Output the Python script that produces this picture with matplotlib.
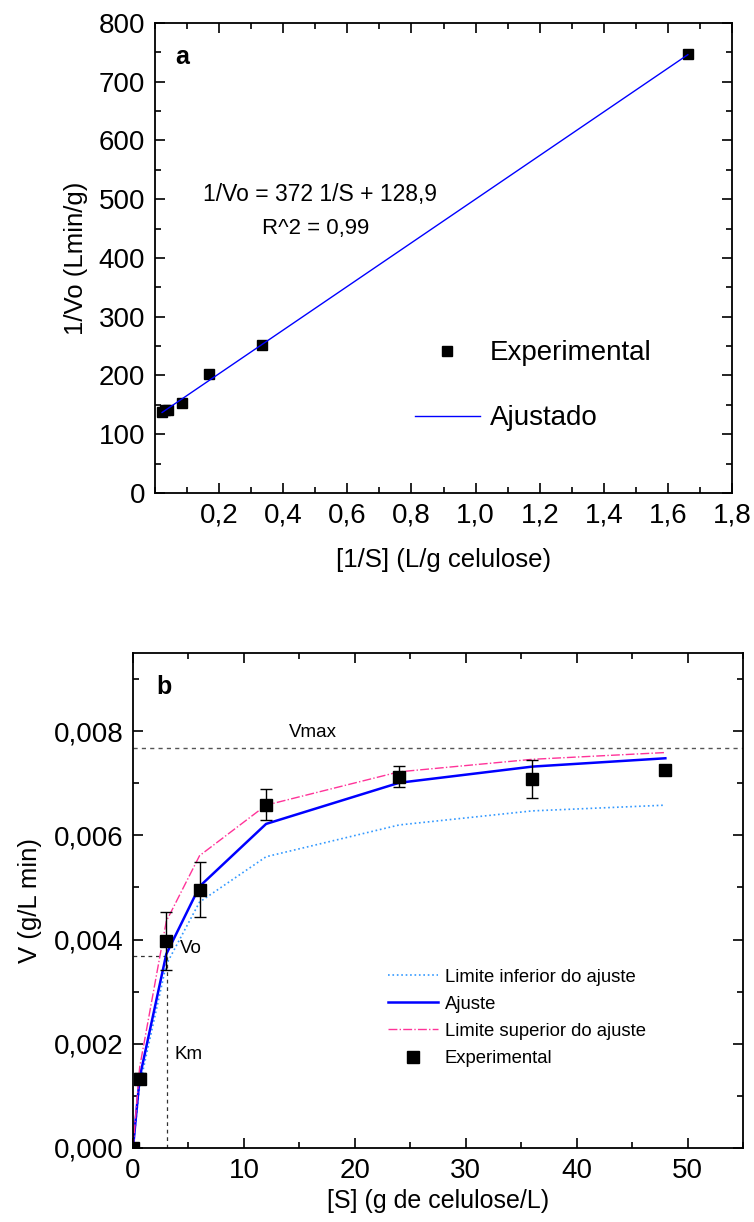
import numpy as np
import matplotlib
matplotlib.use("Agg")
import matplotlib.pyplot as plt
from matplotlib.ticker import MultipleLocator, FuncFormatter
from matplotlib.lines import Line2D

plt.rcParams['font.family'] = ['Liberation Sans', 'DejaVu Sans']

# Painel a - Lineweaver-Burk
inv_s = [0.021, 0.031, 0.042, 0.083, 0.167, 0.333, 1.662]
inv_v = [138, 141, 141, 153, 202, 252, 747]
ajustado_x = [0.022, 1.662]
ajustado_y = [137, 746]

# Painel b - Michaelis-Menten
s_exp = [0, 0.6, 3, 6, 12, 24, 36, 48]
v_exp = [0, 0.00133, 0.00397, 0.00496, 0.00659, 0.00713, 0.00708, 0.00726]
v_err = [0, 0.0001, 0.00056, 0.00052, 0.0003, 0.0002, 0.00037, 0.0001]

s_fit = [0, 0.6, 3, 6, 12, 24, 36, 48]
v_ajuste = [0, 0.00135, 0.00372, 0.00502, 0.00622, 0.00701, 0.00732, 0.00748]
v_sup = [0, 0.00155, 0.00435, 0.00561, 0.00658, 0.00722, 0.00746, 0.00759]
v_inf = [0, 0.0012, 0.00352, 0.00472, 0.00559, 0.0062, 0.00647, 0.00658]

vmax = 0.00767
km = 3.1
vo = 0.00368


def virgula(fmt):
    return FuncFormatter(lambda v, p: (fmt % v).replace('.', ','))


def estilo(ax):
    ax.tick_params(which='both', direction='in', top=True, right=True, width=1.2)
    ax.tick_params(which='major', length=7, labelsize=20, pad=7)
    ax.tick_params(which='minor', length=4)
    for s in ax.spines.values():
        s.set_linewidth(1.3)


fig = plt.figure(figsize=(7.54, 12.22), dpi=100)

# ---- a ----
ax1 = fig.add_axes([0.2056, 0.5966, 0.7653, 0.3846])
ax1.plot(inv_s, inv_v, 's', color='black', markersize=7, label='Experimental')
ax1.plot(ajustado_x, ajustado_y, '-', color='blue', lw=1, label='Ajustado')
ax1.set_xlim(0, 1.8)
ax1.set_ylim(0, 800)
ax1.set_xticks(np.arange(0.2, 1.81, 0.2))
ax1.xaxis.set_minor_locator(MultipleLocator(0.1))
ax1.yaxis.set_major_locator(MultipleLocator(100))
ax1.yaxis.set_minor_locator(MultipleLocator(50))
ax1.xaxis.set_major_formatter(virgula('%.1f'))
estilo(ax1)
ax1.set_xlabel('[1/S] (L/g celulose)', fontsize=18.5, labelpad=14)
ax1.set_ylabel('1/Vo (Lmin/g)', fontsize=18.5, labelpad=8)
ax1.text(0.035, 0.928, 'a', transform=ax1.transAxes, fontsize=18, fontweight='bold', va='center')
ax1.text(0.083, 0.634, '1/Vo = 372 1/S + 128,9', transform=ax1.transAxes, fontsize=16.5, va='center')
ax1.text(0.185, 0.562, 'R^2 = 0,99', transform=ax1.transAxes, fontsize=16, va='center')
ax1.legend(loc='center left', bbox_to_anchor=(0.45, 0.228), frameon=False, fontsize=20,
           borderpad=0, borderaxespad=0, handlelength=2.34, handletextpad=0.36,
           labelspacing=1.4)

# ---- b ----
ax2 = fig.add_axes([0.1764, 0.0606, 0.809, 0.405])
ax2.axhline(vmax, color='#555555', ls=(0, (3, 3)), lw=1)
ax2.plot([0, km], [vo, vo], color='#333333', ls=(0, (3, 3)), lw=0.9)
ax2.plot([km, km], [0, vo], color='#333333', ls=(0, (3, 3)), lw=0.9)
l_inf, = ax2.plot(s_fit, v_inf, ':', color='#3399FF', lw=1.2)
l_aj, = ax2.plot(s_fit, v_ajuste, '-', color='#0000FF', lw=1.8)
l_sup, = ax2.plot(s_fit, v_sup, '-.', color='#FF3399', lw=1)
ax2.errorbar(s_exp, v_exp, yerr=v_err, fmt='s', color='black', markersize=8,
             ecolor='black', elinewidth=1, capsize=4)
h_exp = Line2D([], [], ls='none', marker='s', color='black', markersize=8)
ax2.set_xlim(0, 55)
ax2.set_ylim(0, 0.0095)
ax2.xaxis.set_major_locator(MultipleLocator(10))
ax2.xaxis.set_minor_locator(MultipleLocator(5))
ax2.yaxis.set_major_locator(MultipleLocator(0.002))
ax2.yaxis.set_minor_locator(MultipleLocator(0.001))
ax2.yaxis.set_major_formatter(virgula('%.3f'))
estilo(ax2)
ax2.set_xlabel('[S] (g de celulose/L)', fontsize=18, labelpad=4)
ax2.set_ylabel('V (g/L min)', fontsize=18.5, labelpad=8)
ax2.text(0.039, 0.931, 'b', transform=ax2.transAxes, fontsize=18, fontweight='bold', va='center')
ax2.text(14.1, 0.00797, 'Vmax', fontsize=13.5, va='center')
ax2.text(4.2, 0.00383, 'Vo', fontsize=13.5, va='center')
ax2.text(3.7, 0.00179, 'Km', fontsize=13.5, va='center')
ax2.legend([l_inf, l_aj, l_sup, h_exp],
           ['Limite inferior do ajuste', 'Ajuste', 'Limite superior do ajuste', 'Experimental'],
           loc='center left', bbox_to_anchor=(0.418, 0.263), frameon=False, fontsize=13.3,
           borderpad=0, borderaxespad=0, handlelength=2.7, handletextpad=0.38,
           labelspacing=0.55)

fig.savefig('out.png', dpi=100)
